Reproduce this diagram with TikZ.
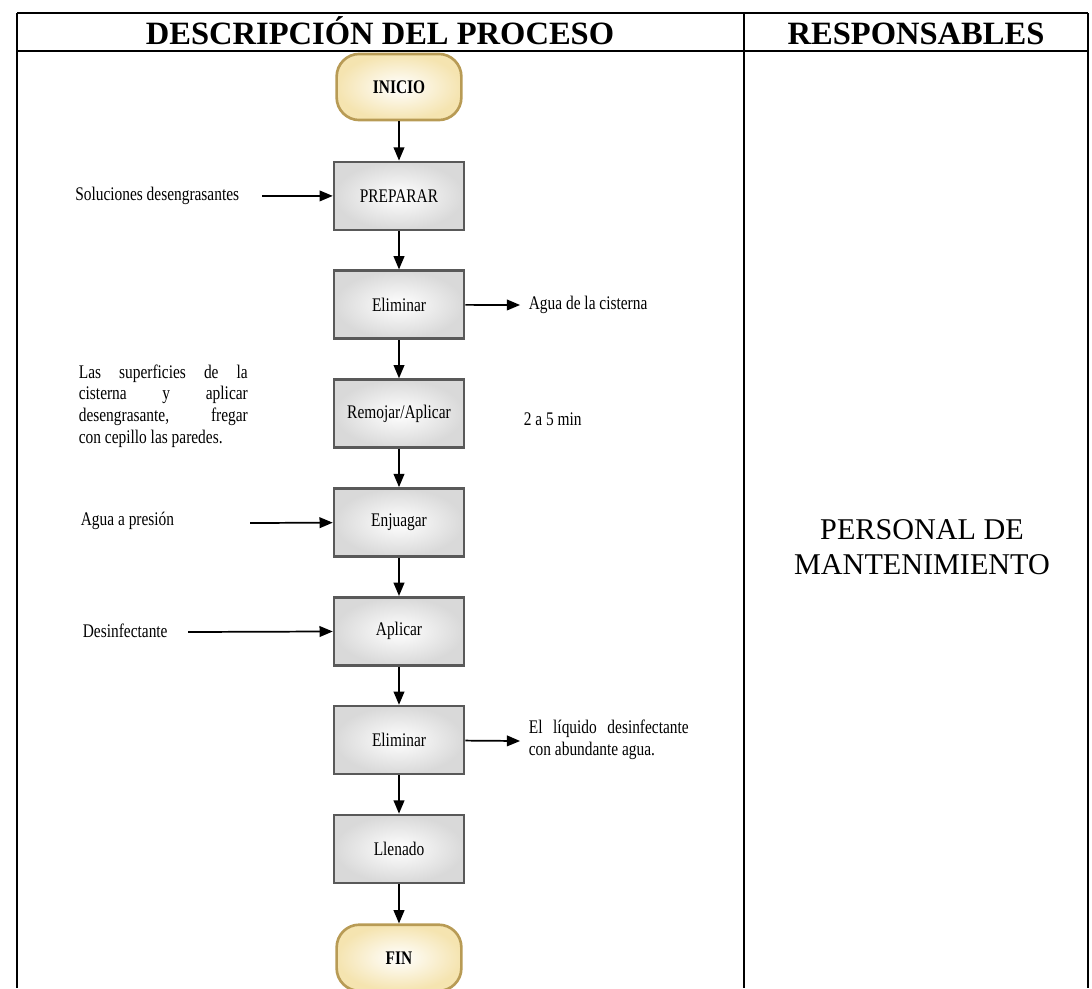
\documentclass[tikz,border=0pt]{standalone}
\usepackage{fontspec}
\setmainfont{Liberation Serif}
\newfontfamily\slimfont{Liberation Serif}[FakeStretch=0.8]
\usepackage{tikz}
\usetikzlibrary{arrows}

\definecolor{gold}{HTML}{B89B55}
\definecolor{cream}{HTML}{F3DFA2}

% one justified line of given width
\newcommand{\spreadline}[2]{\makebox[#1][s]{#2}}

\begin{document}
\begin{tikzpicture}[x=0.2646mm,y=-0.2646mm,->,>=triangle 45,node distance=2.88cm,
                    line width=1.3pt,
                    step node/.style={rectangle,draw=gray!70!black,line width=2pt,inner color=white,outer color=gray!30,
                                      minimum width=3.44cm,minimum height=1.8cm,font=\slimfont\fontsize{14.5}{16.3}\selectfont},
                    end node/.style={rectangle,rounded corners=0.6cm,draw=gold,line width=2pt,inner color=white,outer color=cream!85,
                                     minimum width=3.3cm,minimum height=1.75cm,font=\slimfont\bfseries\fontsize{14.5}{16.3}\selectfont},
                    side text/.style={font=\slimfont\fontsize{14.5}{16.3}\selectfont,inner sep=0pt,align=left},
                    head/.style={font=\bfseries\fontsize{24.5}{28}\selectfont,anchor=base}]

  \useasboundingbox (0,0) rectangle (1092,988);

  % table frame
  \draw[-,line width=2.2pt] (17,13) -- (1088,13) (17,51) -- (1088,51)
        (17,13) -- (17,988) (744,13) -- (744,988) (1088,13) -- (1088,988);
  \node[head] (T1) at (380,44) {DESCRIPCIÓN DEL PROCESO};
  \node[head] (T2) at (916,44) {RESPONSABLES};

  % process column
  \node[end node] (1) at (399,87) {INICIO};
  \node[step node] (2) [below of=1] {PREPARAR};
  \node[step node] (3) [below of=2] {Eliminar};
  \node[step node] (4) [below of=3] {Remojar/Aplicar};
  \node[step node] (5) [below of=4] {Enjuagar};
  \node[step node] (6) [below of=5] {Aplicar};
  \node[step node] (7) [below of=6] {Eliminar};
  \node[step node] (8) [below of=7] {Llenado};
  \node[end node] (9) [below of=8] {FIN};

  % inputs and outputs
  \node[side text,anchor=east] (A) at (240,196) {Soluciones desengrasantes};
  \node[side text,anchor=west] (B) at (528,305) {Agua de la cisterna};
  \node[side text,anchor=west] (C) at (78,406) {\spreadline{44.7mm}{Las superficies de la}\\
                                                \spreadline{44.7mm}{cisterna y aplicar}\\
                                                \spreadline{44.7mm}{desengrasante, fregar}\\
                                                con cepillo las paredes.};
  \node[side text,anchor=west] (D) at (523,419) {2 a 5 min};
  \node[side text,anchor=west] (E) at (80,521) {Agua a presión};
  \node[side text,anchor=west] (F) at (82,631) {Desinfectante};
  \node[side text,anchor=west] (G) at (528,740) {\spreadline{42.3mm}{El líquido desinfectante}\\
                                                 con abundante agua.};
  \node[font=\fontsize{22.7}{26}\selectfont,align=center] (H) at (922,547) {PERSONAL DE\\MANTENIMIENTO};

  \coordinate (a) at (262,196);
  \coordinate (b) at (520,305);
  \coordinate (e) at (250,523);
  \coordinate (f) at (188,632);
  \coordinate (g) at (520,741);

  \path (1) edge (2)
        (2) edge (3)
        (3) edge (4)
        (4) edge (5)
        (5) edge (6)
        (6) edge (7)
        (7) edge (8)
        (8) edge (9);
  \path (a) edge (2)
        (3) edge (b)
        (e) edge (5)
        (f) edge (6)
        (7) edge (g);
\end{tikzpicture}
\end{document}
